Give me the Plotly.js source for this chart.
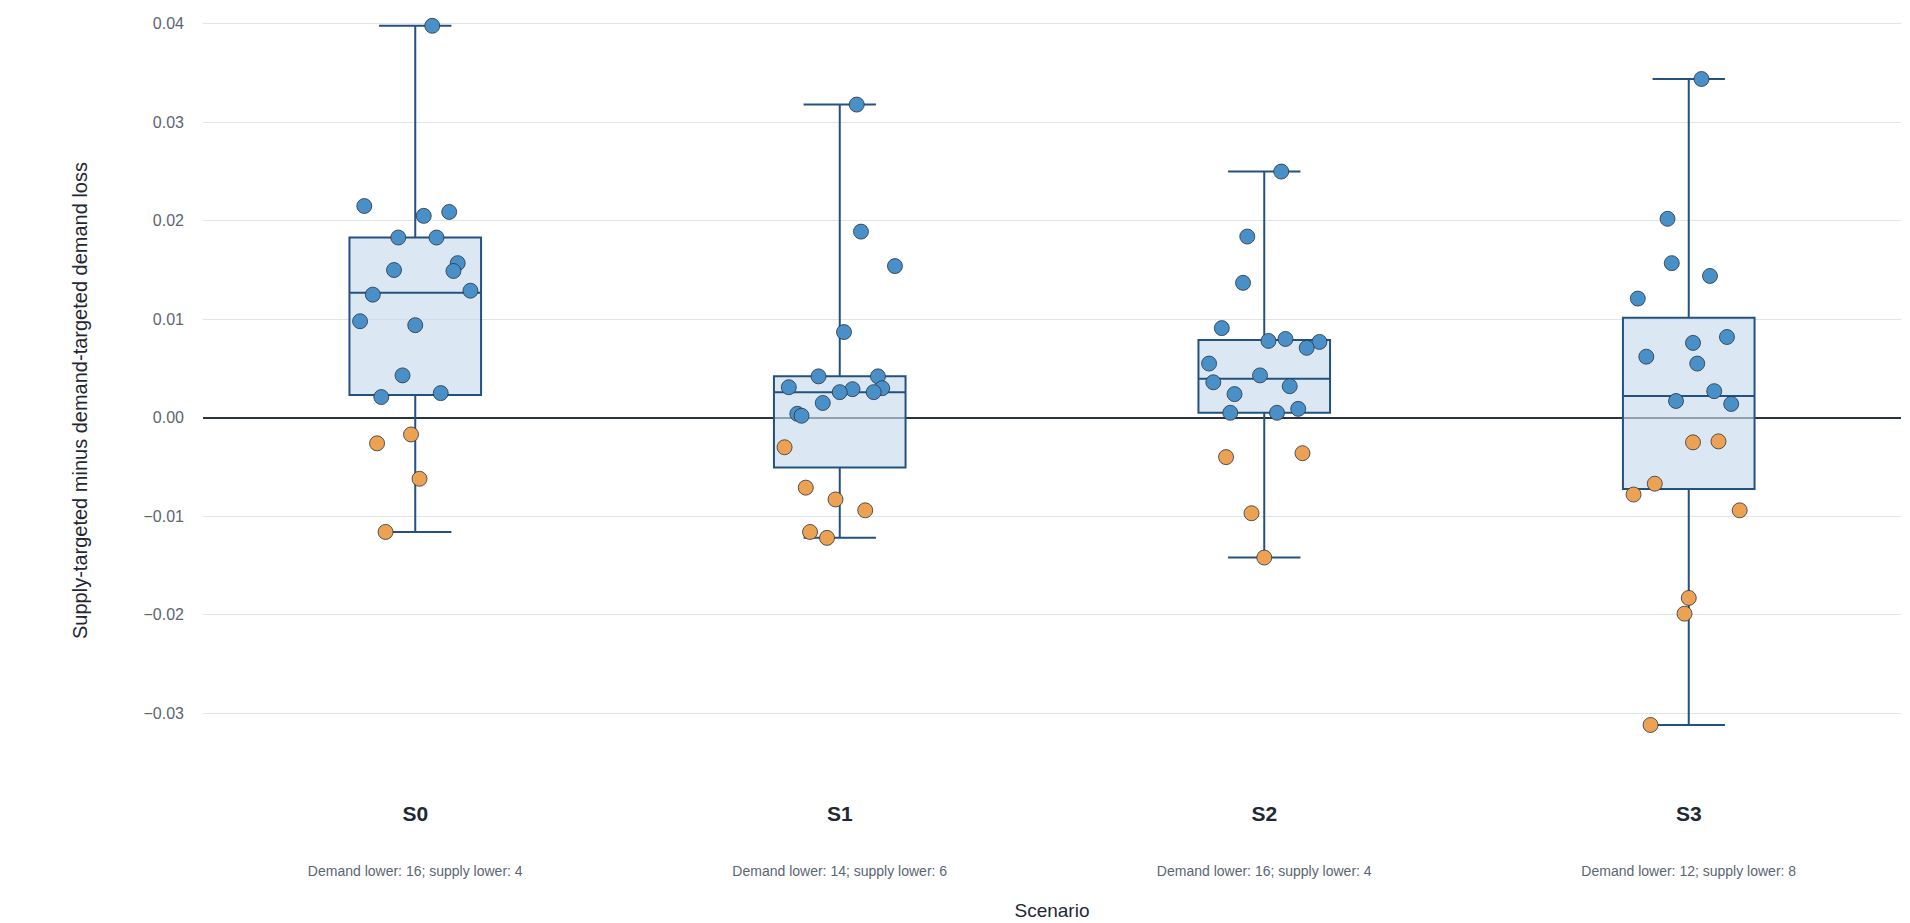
<!DOCTYPE html>
<html>
<head>
<meta charset="utf-8">
<script src="https://cdn.plot.ly/plotly-3.0.1.min.js"></script>
<style>html,body{margin:0;padding:0;background:#fff;}</style>
</head>
<body>
<div id="chart" style="width:1910px;height:923px;"></div>
<script>
var scenarios = ['S0', 'S1', 'S2', 'S3'];

// supply-targeted minus demand-targeted demand loss, per run
var valuesS0 = [0.0398, 0.0215, 0.0209, 0.0205, 0.0183, 0.0183, 0.0157, 0.0150, 0.0149, 0.0129,
	0.0125, 0.0098, 0.0094, 0.0043, 0.0021, 0.0025, -0.0026, -0.0017, -0.0062, -0.0116];
var valuesS1 = [0.0318, 0.0189, 0.0154, 0.0087, 0.0042, 0.0031, 0.0042, 0.0029, 0.0030, 0.0026,
	0.0026, 0.0015, 0.0004, 0.0002, -0.0030, -0.0071, -0.0083, -0.0094, -0.0116, -0.0122];
var valuesS2 = [0.0250, 0.0184, 0.0137, 0.0091, 0.0078, 0.0080, 0.0077, 0.0071, 0.0055, 0.0036,
	0.0043, 0.0032, 0.0024, 0.0005, 0.0005, 0.0009, -0.0040, -0.0036, -0.0097, -0.0142];
var valuesS3 = [0.0344, 0.0202, 0.0157, 0.0144, 0.0121, 0.0082, 0.0076, 0.0062, 0.0055, 0.0027,
	0.0017, 0.0014, -0.0025, -0.0024, -0.0078, -0.0067, -0.0094, -0.0183, -0.0199, -0.0312];

// horizontal jitter of each point (in scenario units)
var jitterS0 = [0.04, -0.12, 0.08, 0.02, -0.04, 0.05, 0.10, -0.05, 0.09, 0.13,
	-0.10, -0.13, 0.00, -0.03, -0.08, 0.06, -0.09, -0.01, 0.01, -0.07];
var jitterS1 = [0.04, 0.05, 0.13, 0.01, -0.05, -0.12, 0.09, 0.03, 0.10, 0.00,
	0.08, -0.04, -0.10, -0.09, -0.13, -0.08, -0.01, 0.06, -0.07, -0.03];
var jitterS2 = [0.04, -0.04, -0.05, -0.10, 0.01, 0.05, 0.13, 0.10, -0.13, -0.12,
	-0.01, 0.06, -0.07, -0.08, 0.03, 0.08, -0.09, 0.09, -0.03, 0.00];
var jitterS3 = [0.03, -0.05, -0.04, 0.05, -0.12, 0.09, 0.01, -0.10, 0.02, 0.06,
	-0.03, 0.10, 0.01, 0.07, -0.13, -0.08, 0.12, 0.00, -0.01, -0.09];

var allValues = [valuesS0, valuesS1, valuesS2, valuesS3];
var allJitter = [jitterS0, jitterS1, jitterS2, jitterS3];

var traces = [];
var tickText = [];
for (var i = 0; i < scenarios.length; i++) {
	var vals = allValues[i];
	traces.push({
		type: 'box',
		x: vals.map(function() { return i; }),
		y: vals,
		boxpoints: false,
		quartilemethod: 'inclusive',
		width: 0.31,
		whiskerwidth: 0.55,
		fillcolor: 'rgba(200,220,236,0.65)',
		line: {color: '#24527f', width: 2},
		hoverinfo: 'y',
		showlegend: false
	});
	var pos = vals.filter(function(v) { return v >= 0; }).length;
	var neg = vals.length - pos;
	tickText.push('<b>' + scenarios[i] + '</b><br><span style="font-size:9px"> </span><br><span style="font-size:14px;color:#5b6673">Demand lower: ' +
		pos + '; supply lower: ' + neg + '</span>');
}
for (var i = 0; i < scenarios.length; i++) {
	var vals = allValues[i];
	traces.push({
		type: 'scatter',
		mode: 'markers',
		x: allJitter[i].map(function(j) { return i + j; }),
		y: vals,
		marker: {
			size: 15,
			color: vals.map(function(v) { return v >= 0 ? 'rgb(74,144,200)' : 'rgb(236,162,82)'; }),
			line: {color: '#2a3440', width: 0.8}
		},
		showlegend: false
	});
}

var layout = {
	paper_bgcolor: '#fff',
	plot_bgcolor: '#fff',
	margin: {l: 203, r: 9, t: 14, b: 136},
	font: {family: 'Liberation Sans, Arial, sans-serif', color: '#2a3440'},
	xaxis: {
		range: [-0.5, 3.5],
		tickvals: [0, 1, 2, 3],
		ticktext: tickText,
		tickfont: {size: 21, color: '#1f2933'},
		showgrid: false,
		zeroline: false,
		ticks: '',
		ticklabelstandoff: 12,
		title: {text: 'Scenario', font: {size: 19, color: '#1f2933'}, standoff: 26}
	},
	yaxis: {
		range: [-0.0375, 0.041],
		dtick: 0.01,
		tickformat: '.2f',
		tickfont: {size: 16, color: '#5b6673'},
		gridcolor: '#e2e5e8',
		zeroline: true,
		zerolinecolor: '#2a3440',
		zerolinewidth: 2,
		ticks: '',
		ticklabelstandoff: 18,
		title: {text: 'Supply-targeted minus demand-targeted demand loss', font: {size: 20, color: '#1f2933'}, standoff: 50}
	}
};

Plotly.newPlot('chart', traces, layout, {displayModeBar: false});
</script>
</body>
</html>
